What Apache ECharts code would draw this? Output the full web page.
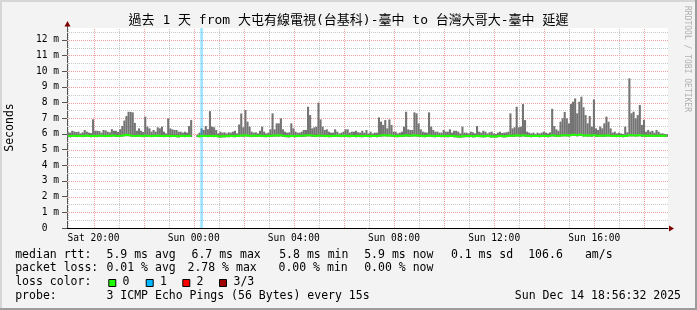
<!DOCTYPE html>
<html><head><meta charset="utf-8">
<script src="https://cdn.jsdelivr.net/npm/echarts@6/dist/echarts.min.js"></script>
<style>html,body{margin:0;padding:0;background:#f3f3f3}#c{width:697px;height:310px}</style>
</head><body><div id="c"></div><script>
// ---- data ----
const startHour = 18 + 56.5 / 60;   // Sat 18:56:32 (hours since Sat 00:00)
const stepHours = 5 / 60;           // 5 minute RRD step
const spanHours = 24;
const xLabelHours = [20, 24, 28, 32, 36, 40];
const majorGridHours = [20, 22, 24, 26, 28, 30, 32, 34, 36, 38, 40, 42];
const minorGridHours = [19, 21, 23, 25, 27, 29, 31, 33, 35, 37, 39, 41];
const yTickValues = [0, 1, 2, 3, 4, 5, 6, 7, 8, 9, 10, 11, 12];
const yMajorGrid = [1, 2, 3, 4, 5, 6, 7, 8, 9, 10, 11, 12];
const yMinorGrid = [0.5, 1.5, 2.5, 3.5, 4.5, 5.5, 6.5, 7.5, 8.5, 9.5, 10.5, 11.5, 12.5];
const yMax = 12.75;

// smoke upper edge (max ping, ms)
const smokeUpper = [
  6.1,6.08,6.2,6.15,6.12,6.14,6.03,6.1,6.25,6.14,6.08,6.05,
  6.93,6.2,6.2,6.18,6.08,6.25,6.22,6.14,6.1,6.3,6.2,6.2,
  6.12,6.3,6.5,6.85,7.14,7.41,7.4,7.37,6.7,6.2,6.35,6.2,
  6.12,7.1,6.46,6.35,6.14,6.25,6.14,6.42,6.35,6.46,6.14,6.03,
  6.99,6.35,6.29,6.25,6.25,6.14,6.14,6.08,6.14,6.08,6.5,6.88,
  null,null,5.95,6.08,6.35,6.25,6.5,6.3,7.45,6.46,6.42,6.25,
  6.03,6.14,6.08,6.1,6.03,6.1,6.08,6.14,6.2,6.03,6.6,7.3,
  6.42,7.52,6.78,6.46,6.14,6.08,6.1,6.03,6.2,6.46,6.14,6.03,
  6.08,6.29,7.31,6.29,6.67,6.67,6.99,6.29,6.14,6.08,6.1,6.67,
  6.35,6.14,6.08,6.08,6.14,6.25,6.25,7.73,7.2,6.35,6.42,6.46,
  7.99,6.92,6.46,6.25,6.29,6.14,6.08,6.08,6.29,6.14,6.03,6.08,
  6.14,6.29,6.29,6.08,6.14,6.14,6.2,6.1,6.08,6.2,6.08,6.25,
  6.03,6.14,6.03,6.08,6.08,7.05,6.78,6.57,6.88,6.35,6.92,6.57,
  6.14,6.14,6.03,6.08,6.14,6.46,7.41,6.29,6.25,6.25,7.37,7.31,
  6.67,6.29,6.14,6.1,6.08,7.37,6.46,6.25,6.14,6.14,6.08,6.08,
  6.25,6.14,6.14,6.29,6.08,6.2,6.2,6.14,6.03,6.46,6.08,6.08,
  6.03,6.14,6.1,6.03,6.5,6.14,6.08,6.2,6.14,6.03,6.1,6.14,
  6.03,6.0,6.08,6.14,6.05,6.08,6.1,6.14,7.31,6.35,6.42,7.73,
  6.42,6.46,7.9,6.88,6.14,6.08,6.03,6.08,6.0,6.08,6.03,6.08,
  6.14,6.08,6.03,6.1,7.6,6.5,6.29,6.2,6.78,6.99,7.4,6.99,
  6.67,7.9,8.05,8.26,7.31,8.05,8.37,7.7,7.2,6.67,7.14,6.46,
  8.2,6.35,6.25,6.46,6.35,6.67,7.1,6.78,6.35,6.08,6.14,6.03,
  6.08,6.03,6.0,6.46,6.1,9.54,7.31,7.41,6.99,7.2,7.84,6.57,
  6.9,6.14,6.25,6.14,6.2,6.08,6.25,6.14,6.03,6.03,6.0,5.98
];
// smoke lower edge (min ping, ms)
const smokeLower = [
  5.8,5.78,5.8,5.82,5.79,5.8,5.81,5.79,5.8,5.82,5.8,5.78,
  5.8,5.81,5.79,5.8,5.82,5.8,5.79,5.81,5.8,5.82,5.83,5.8,
  5.8,5.81,5.82,5.84,5.85,5.85,5.83,5.81,5.8,5.81,5.82,5.8,
  5.79,5.82,5.8,5.8,5.79,5.81,5.8,5.82,5.8,5.8,5.79,5.8,
  5.8,5.79,5.81,5.8,5.78,5.77,5.8,5.81,5.79,5.8,5.81,5.8,
  null,null,5.79,5.78,5.8,5.81,5.8,5.79,5.81,5.8,5.79,5.8,
  5.77,5.76,5.78,5.77,5.79,5.78,5.8,5.79,5.78,5.8,5.8,5.82,
  5.81,5.83,5.82,5.8,5.79,5.81,5.8,5.8,5.82,5.8,5.79,5.78,
  5.8,5.8,5.81,5.82,5.83,5.82,5.84,5.8,5.79,5.78,5.77,5.8,
  5.79,5.78,5.8,5.8,5.8,5.81,5.82,5.84,5.83,5.81,5.8,5.8,
  5.82,5.81,5.8,5.79,5.8,5.78,5.79,5.8,5.8,5.81,5.8,5.79,
  5.8,5.81,5.79,5.78,5.8,5.8,5.78,5.8,5.79,5.78,5.8,5.8,
  5.79,5.78,5.8,5.8,5.78,5.8,5.82,5.83,5.84,5.82,5.83,5.81,
  5.8,5.79,5.78,5.8,5.8,5.81,5.83,5.81,5.8,5.82,5.84,5.82,
  5.81,5.8,5.79,5.78,5.8,5.82,5.8,5.79,5.78,5.8,5.8,5.78,
  5.8,5.79,5.78,5.8,5.8,5.78,5.77,5.76,5.75,5.77,5.78,5.79,
  5.78,5.8,5.77,5.78,5.8,5.79,5.78,5.77,5.78,5.8,5.78,5.76,
  5.77,5.76,5.78,5.8,5.78,5.77,5.78,5.8,5.82,5.8,5.81,5.83,
  5.82,5.81,5.84,5.82,5.8,5.8,5.78,5.8,5.8,5.8,5.78,5.8,
  5.8,5.8,5.78,5.8,5.84,5.82,5.8,5.8,5.82,5.83,5.84,5.83,
  5.82,5.85,5.87,5.86,5.84,5.86,5.87,5.82,5.84,5.82,5.83,5.81,
  5.85,5.81,5.8,5.82,5.8,5.81,5.82,5.83,5.8,5.8,5.8,5.79,
  5.8,5.8,5.78,5.8,5.8,5.84,5.83,5.84,5.82,5.83,5.85,5.81,
  5.82,5.8,5.81,5.8,5.81,5.8,5.8,5.81,5.8,5.8,5.8,5.81
];
// median rtt (ms)
const medianRtt = [
  5.88,5.86,5.87,5.89,5.86,5.88,5.87,5.86,5.88,5.9,5.87,5.86,
  5.88,5.87,5.86,5.88,5.89,5.87,5.86,5.88,5.87,5.89,5.9,5.88,
  5.87,5.88,5.9,5.92,5.94,5.93,5.9,5.88,5.87,5.88,5.89,5.87,
  5.86,5.9,5.88,5.87,5.86,5.88,5.87,5.89,5.88,5.87,5.86,5.88,
  5.87,5.86,5.88,5.87,5.86,5.85,5.87,5.88,5.86,5.87,5.88,5.87,
  null,null,5.86,5.85,5.87,5.88,5.87,5.86,5.88,5.87,5.86,5.88,
  5.85,5.84,5.86,5.85,5.87,5.86,5.88,5.87,5.86,5.88,5.87,5.9,
  5.89,5.91,5.9,5.88,5.87,5.89,5.88,5.87,5.9,5.88,5.87,5.86,
  5.88,5.87,5.89,5.9,5.91,5.9,5.92,5.88,5.87,5.86,5.85,5.88,
  5.87,5.86,5.88,5.87,5.88,5.89,5.9,5.92,5.91,5.89,5.88,5.87,
  5.9,5.89,5.88,5.87,5.88,5.86,5.87,5.88,5.87,5.89,5.88,5.87,
  5.88,5.89,5.87,5.86,5.88,5.87,5.86,5.88,5.87,5.86,5.87,5.88,
  5.87,5.86,5.88,5.87,5.86,5.88,5.9,5.91,5.92,5.9,5.91,5.89,
  5.88,5.87,5.86,5.88,5.87,5.89,5.91,5.89,5.88,5.9,5.92,5.9,
  5.89,5.88,5.87,5.86,5.88,5.9,5.88,5.87,5.86,5.88,5.87,5.86,
  5.88,5.87,5.86,5.88,5.87,5.86,5.85,5.84,5.83,5.85,5.86,5.87,
  5.86,5.87,5.85,5.86,5.88,5.87,5.86,5.85,5.86,5.87,5.86,5.84,
  5.85,5.84,5.86,5.87,5.86,5.85,5.86,5.87,5.9,5.88,5.89,5.91,
  5.9,5.89,5.92,5.9,5.88,5.87,5.86,5.87,5.88,5.87,5.86,5.87,
  5.88,5.87,5.86,5.88,5.92,5.9,5.88,5.87,5.9,5.91,5.92,5.91,
  5.9,5.93,5.95,5.94,5.92,5.94,5.95,5.9,5.92,5.9,5.91,5.89,
  5.93,5.89,5.88,5.9,5.88,5.89,5.9,5.91,5.88,5.87,5.88,5.87,
  5.88,5.87,5.86,5.88,5.87,5.92,5.91,5.92,5.9,5.91,5.93,5.89,
  5.9,5.88,5.89,5.88,5.89,5.87,5.88,5.89,5.88,5.87,5.88,5.89
];
// steps with packet loss (index into the arrays) and lost pings
const lossSteps = [64];
const lossPings = [1];

const lossColors = ['#20ff00', '#00b8ff', '#ff0000', '#a00000'];
const lossLabels = ['0', '1', '2', '3/3'];
const statsRow1 = ['5.9 ms avg', '6.7 ms max', '5.8 ms min', '5.9 ms now', '0.1 ms sd', '106.6', 'am/s'];
const statsRow2 = ['0.01 % avg', '2.78 % max', '0.00 % min', '0.00 % now'];

// ---- chart ----
const MONO = '"DejaVu Sans Mono", monospace';
const stepTime = i => startHour + (i + 0.5) * stepHours;
const smokeData = [];
smokeUpper.forEach((v, i) => { if (v != null && smokeLower[i] != null) smokeData.push([stepTime(i), smokeLower[i], v]); });
const medianData = medianRtt.map((v, i) => [stepTime(i), v]);
const lossData = lossSteps.map((s, k) => [stepTime(s), yMax, lossPings[k]]);

function vLine(color) {
  return function (p, api) {
    const a = api.coord([api.value(0), 0]);
    const b = api.coord([api.value(0), yMax]);
    const x = Math.round(a[0]) + 0.5;
    return { type: 'line', shape: { x1: x, y1: a[1], x2: x, y2: b[1] },
      style: { stroke: color, lineWidth: 1, lineDash: [1, 1] } };
  };
}
function hLine(color) {
  return function (p, api) {
    const a = api.coord([startHour, api.value(1)]);
    const b = api.coord([startHour + spanHours, api.value(1)]);
    const y = Math.round(a[1]) + 0.5;
    return { type: 'line', shape: { x1: a[0], y1: y, x2: b[0], y2: y },
      style: { stroke: color, lineWidth: 1, lineDash: [1, 1] } };
  };
}
const MINOR = '#c8c8c8', MAJOR = '#f2a0a0';

const graphics = [
  // frame
  { type: 'line', shape: { x1: 0, y1: 1, x2: 697, y2: 1 }, style: { stroke: '#d6d6d6', lineWidth: 2 } },
  { type: 'line', shape: { x1: 1, y1: 0, x2: 1, y2: 310 }, style: { stroke: '#d6d6d6', lineWidth: 2 } },
  { type: 'line', shape: { x1: 696, y1: 0, x2: 696, y2: 310 }, style: { stroke: '#9c9c9c', lineWidth: 2 } },
  { type: 'line', shape: { x1: 0, y1: 309, x2: 697, y2: 309 }, style: { stroke: '#9c9c9c', lineWidth: 2 } },
  // title
  { type: 'text', x: 348.5, y: 21, style: { text: '過去 1 天 from 大屯有線電視(台基科)-臺中 to 台灣大哥大-臺中 延遲',
      font: '13px "DejaVu Sans Mono", "Noto Sans CJK TC", sans-serif', fill: '#000', align: 'center', verticalAlign: 'middle' } },
  // vertical axis title
  { type: 'text', x: 10, y: 127.5, rotation: Math.PI / 2, style: { text: 'Seconds', font: '11.5px ' + MONO, fill: '#000', align: 'center', verticalAlign: 'middle' } },
  // watermark
  { type: 'text', x: 687, y: 59, rotation: -Math.PI / 2, style: { text: 'RRDTOOL / TOBI OETIKER', font: '8px ' + MONO, fill: '#b0b0b0', align: 'center', verticalAlign: 'middle' } },
  // y axis extension + arrows
  { type: 'line', z: 10, shape: { x1: 67.5, y1: 24, x2: 67.5, y2: 28 }, style: { stroke: '#555', lineWidth: 1 } },
  { type: 'polygon', z: 10, shape: { points: [[64.5, 26.5], [70.5, 26.5], [67.5, 21]] }, style: { fill: '#800000' } },
  { type: 'polygon', z: 10, shape: { points: [[669, 225.5], [669, 231.5], [674, 228.5]] }, style: { fill: '#800000' } }
];
function txt(x, y, t, align) {
  graphics.push({ type: 'text', x: x, y: y, style: { text: t, font: '11.5px ' + MONO, fill: '#000', align: align || 'left', verticalAlign: 'middle' } });
}
const row1X = [106.5, 191.5, 279.2, 364.2, 450.9, 528.2, 584.9];
const row2X = [106.5, 187.5, 278.5, 364.2];
txt(15.2, 255, 'median rtt:');
statsRow1.forEach((t, k) => txt(row1X[k], 255, t));
txt(15.2, 268.5, 'packet loss:');
statsRow2.forEach((t, k) => txt(row2X[k], 268.5, t));
txt(15.2, 282, 'loss color:');
const boxX = [108.3, 145.7, 182.3, 219];
const lblX = [122.5, 159.9, 196.5, 233.5];
lossColors.forEach((c, k) => {
  graphics.push({ type: 'rect', shape: { x: boxX[k] + 0.5, y: 279.5, width: 7, height: 7 }, style: { fill: c, stroke: '#000', lineWidth: 1 } });
  txt(lblX[k], 282, lossLabels[k]);
});
txt(15.2, 296, 'probe:');
txt(106.5, 296, '3 ICMP Echo Pings (56 Bytes) every 15s');
txt(681, 296, 'Sun Dec 14 18:56:32 2025', 'right');

const chart = echarts.init(document.getElementById('c'), null, { renderer: 'canvas' });
chart.setOption({
  backgroundColor: '#f3f3f3',
  animation: false,
  grid: { left: 67, right: 29, top: 28, bottom: 82, show: true, backgroundColor: '#ffffff', borderWidth: 0 },
  xAxis: {
    type: 'value', min: startHour, max: startHour + spanHours,
    splitLine: { show: false },
    axisLine: { show: true, lineStyle: { color: '#000', width: 1 } },
    axisTick: { show: false },
    axisLabel: {
      customValues: xLabelHours, margin: 5, color: '#000', fontFamily: MONO, fontSize: 9.6,
      formatter: v => (v < 24 ? 'Sat ' : 'Sun ') + String(v % 24).padStart(2, '0') + ':00'
    }
  },
  yAxis: {
    type: 'value', min: 0, max: yMax, interval: 1,
    splitLine: { show: false },
    axisLine: { show: true, onZero: false, lineStyle: { color: '#555', width: 1 } },
    axisTick: { show: true, customValues: yTickValues, length: 5, lineStyle: { color: '#555' } },
    axisLabel: {
      customValues: yTickValues, margin: 8, color: '#000', fontFamily: MONO, fontSize: 9.6,
      formatter: v => (v === 0 ? '0  ' : v + ' m')
    }
  },
  graphic: graphics,
  series: [
    { type: 'custom', z: 1, silent: true, data: minorGridHours.map(h => [h, 0]), encode: { x: 0, y: 1 }, renderItem: vLine(MINOR) },
    { type: 'custom', z: 1, silent: true, data: majorGridHours.map(h => [h, 0]), encode: { x: 0, y: 1 }, renderItem: vLine(MAJOR) },
    { type: 'custom', z: 1, silent: true, data: yMinorGrid.map(v => [startHour, v]), encode: { x: 0, y: 1 }, renderItem: hLine(MINOR) },
    { type: 'custom', z: 1, silent: true, data: yMajorGrid.map(v => [startHour, v]), encode: { x: 0, y: 1 }, renderItem: hLine(MAJOR) },
    { type: 'custom', z: 2, silent: true, data: smokeData, encode: { x: 0, y: [1, 2] },
      renderItem: function (p, api) {
        const t = api.value(0);
        const a = api.coord([t - stepHours / 2, api.value(2)]);
        const b = api.coord([t + stepHours / 2, api.value(1)]);
        return { type: 'rect', shape: { x: a[0], y: a[1], width: b[0] - a[0], height: b[1] - a[1] }, style: { fill: '#747474' } };
      } },
    { type: 'custom', z: 3, silent: true, data: lossData, encode: { x: 0, y: 1 },
      renderItem: function (p, api) {
        const t = api.value(0);
        const a = api.coord([t - stepHours * 0.65, api.value(1)]);
        const b = api.coord([t + stepHours * 0.65, 0]);
        return { type: 'rect', shape: { x: a[0], y: a[1], width: b[0] - a[0], height: b[1] - a[1] },
          style: { fill: lossColors[api.value(2)], opacity: 0.38 } };
      } },
    { type: 'line', z: 4, silent: true, data: medianData, showSymbol: false, symbol: 'none', connectNulls: false,
      lineStyle: { color: lossColors[0], width: 2 } }
  ]
});
</script></body></html>
